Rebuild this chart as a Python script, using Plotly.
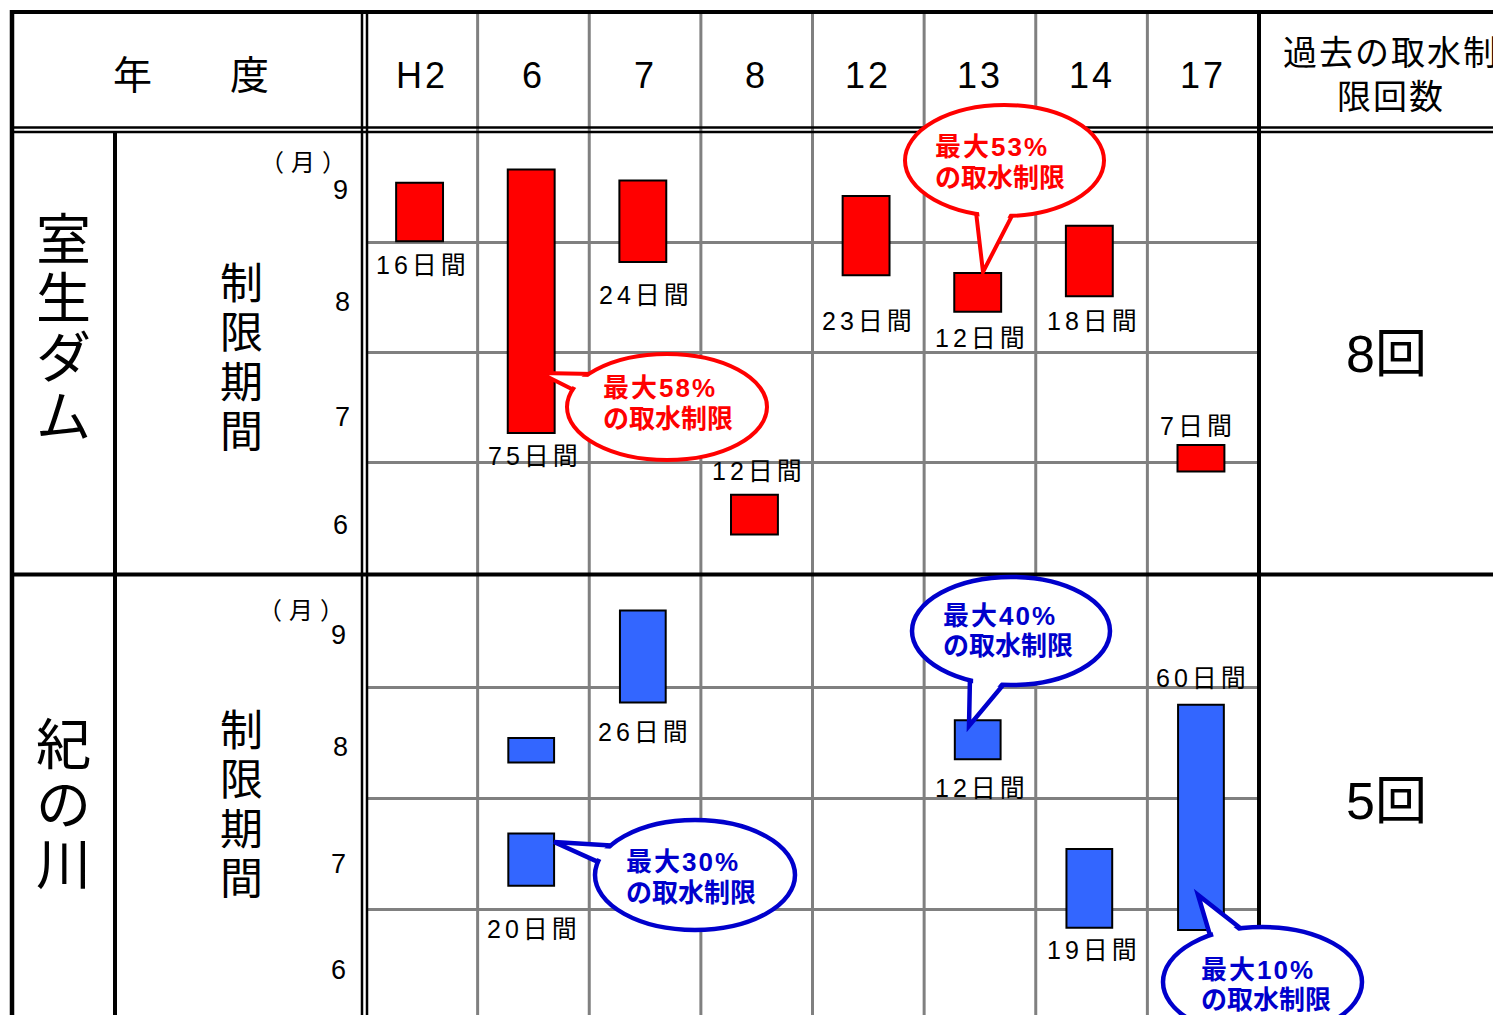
import math
import plotly.graph_objects as go

W, H = 1493, 1015

# ---------------- data ----------------
years = ["H2", "6", "7", "8", "12", "13", "14", "17"]
months = [9, 8, 7, 6]

muroo_years = ["H2", "6", "7", "8", "12", "13", "14", "17"]
muroo_start = [9.01, 7.27, 8.82, 6.35, 8.70, 8.37, 8.51, 6.92]
muroo_end = [9.54, 9.66, 9.56, 6.71, 9.42, 8.72, 9.15, 7.16]
muroo_days = [16, 75, 24, 12, 23, 12, 18, 7]
muroo_count = 8
muroo_max_pct = [58, 53]

kino_years = ["6", "6", "7", "13", "14", "17"]
kino_start = [8.32, 7.21, 8.86, 8.35, 6.83, 6.81]
kino_end = [8.54, 7.68, 9.69, 8.70, 7.54, 8.84]
kino_days = [None, 20, 26, 12, 19, 60]
kino_count = 5
kino_max_pct = [40, 30, 10]

# ---------------- style ----------------
RED = "#FF0000"
BLUE_BAR = "#3366FF"
BLUE = "#0000CC"
GRAY = "#808080"
JP = "Noto Sans CJK JP"
MIX = "Liberation Sans, Noto Sans CJK JP, sans-serif"

muroo_label_shift = [-24, -23, -33, 24, -46, -26, -25, 19]
muroo_label_dx = [1, 2, 1, 2, 1, 2, 2, -5]
kino_label_shift = [0, -43, -29, -29, -22, 27]
kino_label_dx = [0, 1, 0, 2, 2, 0]


def PX(x):
    return x / W


def PY(y):
    return 1 - y / H


fig = go.Figure()

# bars
fig.add_trace(go.Bar(
    x=[years.index(y) for y in muroo_years], base=muroo_start,
    y=[e - s for s, e in zip(muroo_start, muroo_end)],
    width=0.42, offset=-0.23,
    marker=dict(color=RED, line=dict(color="black", width=2)),
    xaxis="x", yaxis="y", hoverinfo="skip", showlegend=False))
fig.add_trace(go.Bar(
    x=[years.index(y) for y in kino_years], base=kino_start,
    y=[e - s for s, e in zip(kino_start, kino_end)],
    width=0.41, offset=-0.225,
    marker=dict(color=BLUE_BAR, line=dict(color="black", width=2)),
    xaxis="x2", yaxis="y2", hoverinfo="skip", showlegend=False))

shapes = []
annotations = []


def ann(x, y, text, size, color="black", family=MIX, xanchor="center",
        yanchor="middle", bold=False, **kw):
    if bold:
        text = "<b>" + text + "</b>"
    d = dict(x=x, y=y, text=text, showarrow=False, xref="paper", yref="paper",
             xanchor=xanchor, yanchor=yanchor,
             font=dict(size=size, color=color, family=family))
    d.update(kw)
    annotations.append(d)


def vertical(word, glyph_size):
    # one character per line; line pitch follows the base annotation font size
    return "<br>".join(f'<span style="font-size:{glyph_size}px">{c}</span>' for c in word)


# gray vertical column dividers (through header too)
for k in range(len(years) - 1):
    shapes.append(dict(type="line", xref="x", yref="paper", x0=k + 0.5, x1=k + 0.5,
                       y0=0, y1=PY(12), line=dict(color=GRAY, width=3)))

# black table structure
black_lines = [
    (12, 12, 1493, 12, 4),
    (12, 10, 12, 1015, 4.5),
    (12, 127.5, 1493, 127.5, 2.5),
    (12, 132, 1493, 132, 2.5),
    (362, 12, 362, 1015, 2.5),
    (367, 12, 367, 1015, 2.5),
    (115, 132, 115, 1015, 4),
    (12, 574.5, 1493, 574.5, 4),
    (1259, 12, 1259, 1015, 4),
]
for x0, y0, x1, y1, w in black_lines:
    shapes.append(dict(type="line", xref="paper", yref="paper",
                       x0=PX(x0), y0=PY(y0), x1=PX(x1), y1=PY(y1),
                       line=dict(color="black", width=w)))


# callouts
def unit(v):
    L = math.hypot(v[0], v[1])
    return (v[0] / L, v[1] / L)


def proj(cx, cy, rx, ry, p, f=0.96):
    dx = (p[0] - cx) / rx
    dy = (p[1] - cy) / ry
    L = math.hypot(dx, dy)
    return (cx + dx / L * rx * f, cy + dy / L * ry * f)


def path_px(pts):
    return "M " + " L ".join(f"{PX(x):.5f},{PY(y):.5f}" for x, y in pts) + " Z"


def callout(cx, cy, rx, ry, b1, b2, tip, color, lw, lines, tx, tys):
    B1 = proj(cx, cy, rx, ry, b1)
    B2 = proj(cx, cy, rx, ry, b2)
    T = tip
    shapes.append(dict(type="path", xref="paper", yref="paper", path=path_px([B1, T, B2]),
                       fillcolor="white", line=dict(color=color, width=lw)))
    shapes.append(dict(type="circle", xref="paper", yref="paper",
                       x0=PX(cx - rx), x1=PX(cx + rx), y0=PY(cy + ry), y1=PY(cy - ry),
                       fillcolor="white", line=dict(color=color, width=lw)))
    pts = []
    for Bi, Bj in ((B1, B2), (B2, B1)):
        d = unit((Bi[0] - T[0], Bi[1] - T[1]))
        v = (Bj[0] - Bi[0], Bj[1] - Bi[1])
        dot = v[0] * d[0] + v[1] * d[1]
        n = unit((v[0] - dot * d[0], v[1] - dot * d[1]))
        off = lw / 2 + 1
        A = (Bi[0] + 9 * d[0] + off * n[0], Bi[1] + 9 * d[1] + off * n[1])
        C = (T[0] + 0.6 * (Bi[0] - T[0]) + off * n[0], T[1] + 0.6 * (Bi[1] - T[1]) + off * n[1])
        pts.append((C, A))
    patch = [pts[0][0], pts[0][1], pts[1][1], pts[1][0]]
    shapes.append(dict(type="path", xref="paper", yref="paper", path=path_px(patch),
                       fillcolor="white", line=dict(color="white", width=0)))
    for i, (t, ty) in enumerate(zip(lines, tys)):
        if i == 0:
            t = '<span style="letter-spacing:2px">' + t + '</span>'
        ann(PX(tx), PY(ty), t, 26, color=color, xanchor="left", bold=True)


def two_lines(p):
    return [f"最大{p}%", "の取水制限"]


callout(667, 407, 100, 53, (583, 369), (570, 390), (540, 373), RED, 4,
        two_lines(muroo_max_pct[0]), 601, (388, 419))
callout(1004.5, 160.5, 99.5, 55.5, (975, 213), (1013, 213), (983, 272), RED, 4,
        two_lines(muroo_max_pct[1]), 933, (147, 178))
callout(1011, 631, 99, 54, (968, 680), (1005, 683), (969, 726), BLUE, 4.5,
        two_lines(kino_max_pct[0]), 941, (616, 646))
callout(695, 875, 100, 55, (613, 845), (598, 863), (554, 842), BLUE, 4.5,
        two_lines(kino_max_pct[1]), 624, (862, 893))
callout(1262.5, 982, 99.5, 55, (1210, 937), (1243, 930), (1198, 895), BLUE, 4.5,
        two_lines(kino_max_pct[2]), 1199, (970, 1000))

# header
ann(PX(191), PY(72), "年　　度", 39, family=JP)
for k, y in enumerate(years):
    annotations.append(dict(x=k, y=PY(76), xref="x", yref="paper", showarrow=False,
                            text='<span style="letter-spacing:3px">' + y + '</span>',
                            xanchor="center", yanchor="middle",
                            font=dict(size=36, color="black", family=MIX)))
ann(PX(1391), PY(72), '<span style="letter-spacing:2px">過去の取水制</span><br>'
    '<span style="letter-spacing:2px">限回数</span>', 34, family=JP)

# left labels (vertical text)
ann(PX(63), PY(323), vertical("室生ダム", 55), 45.5, family=JP)
ann(PX(63), PY(800), vertical("紀の川", 55), 46, family=JP)
ann(PX(241), PY(354), vertical("制限期間", 43), 38, family=JP)
ann(PX(241), PY(800.5), vertical("制限期間", 43), 38, family=JP)

ann(PX(306), PY(161), '<span style="letter-spacing:7px">（月）</span>', 24, family=JP)
ann(PX(304), PY(608), '<span style="letter-spacing:7px">（月）</span>', 24, family=JP)
for m, px_, py in zip(months, [340, 342, 342, 340], [190, 302, 417, 525]):
    ann(PX(px_), PY(py), str(m), 27)
for m, px_, py in zip(months, [338, 340, 338, 338], [635, 747, 864, 970]):
    ann(PX(px_), PY(py), str(m), 27)

# counts
ann(PX(1386), PY(354), f"{muroo_count}回", 52)
ann(PX(1386), PY(801), f"{kino_count}回", 52)

# duration labels
for y, s, e, d, sh, dx in zip(muroo_years, muroo_start, muroo_end, muroo_days,
                              muroo_label_shift, muroo_label_dx):
    annotations.append(dict(x=years.index(y), y=(s if sh < 0 else e), xref="x", yref="y",
                            yshift=sh, xshift=dx, showarrow=False,
                            text=f'<span style="letter-spacing:4px">{d}日間</span>',
                            font=dict(size=25, color="black", family=MIX)))
for y, s, e, d, sh, dx in zip(kino_years, kino_start, kino_end, kino_days,
                              kino_label_shift, kino_label_dx):
    if d is None:
        continue
    annotations.append(dict(x=years.index(y), y=(s if sh < 0 else e), xref="x2", yref="y2",
                            yshift=sh, xshift=dx, showarrow=False,
                            text=f'<span style="letter-spacing:4px">{d}日間</span>',
                            font=dict(size=25, color="black", family=MIX)))

axis_common = dict(showticklabels=False, zeroline=False, showline=False, ticks="")
kino_bottom = 10 - (1015 - 576) / 111.0

fig.update_layout(
    width=W, height=H, margin=dict(l=0, r=0, t=0, b=0),
    paper_bgcolor="white", plot_bgcolor="white",
    barmode="overlay", showlegend=False,
    xaxis=dict(domain=[PX(366), PX(1259)], range=[-0.5, 7.5], showgrid=False,
               anchor="y", fixedrange=True, **axis_common),
    yaxis=dict(domain=[PY(573), PY(132)], range=[6, 10], tickvals=[7, 8, 9],
               showgrid=True, gridcolor=GRAY, gridwidth=3, anchor="x",
               fixedrange=True, **axis_common),
    xaxis2=dict(domain=[PX(366), PX(1259)], range=[-0.5, 7.5], showgrid=False,
                anchor="y2", fixedrange=True, **axis_common),
    yaxis2=dict(domain=[0, PY(576)], range=[kino_bottom, 10], tickvals=[7, 8, 9],
                showgrid=True, gridcolor=GRAY, gridwidth=3, anchor="x2",
                fixedrange=True, **axis_common),
    shapes=shapes, annotations=annotations,
)

fig.write_html("out.html", config={"displayModeBar": False},
               post_script="document.body.style.margin='0';")
